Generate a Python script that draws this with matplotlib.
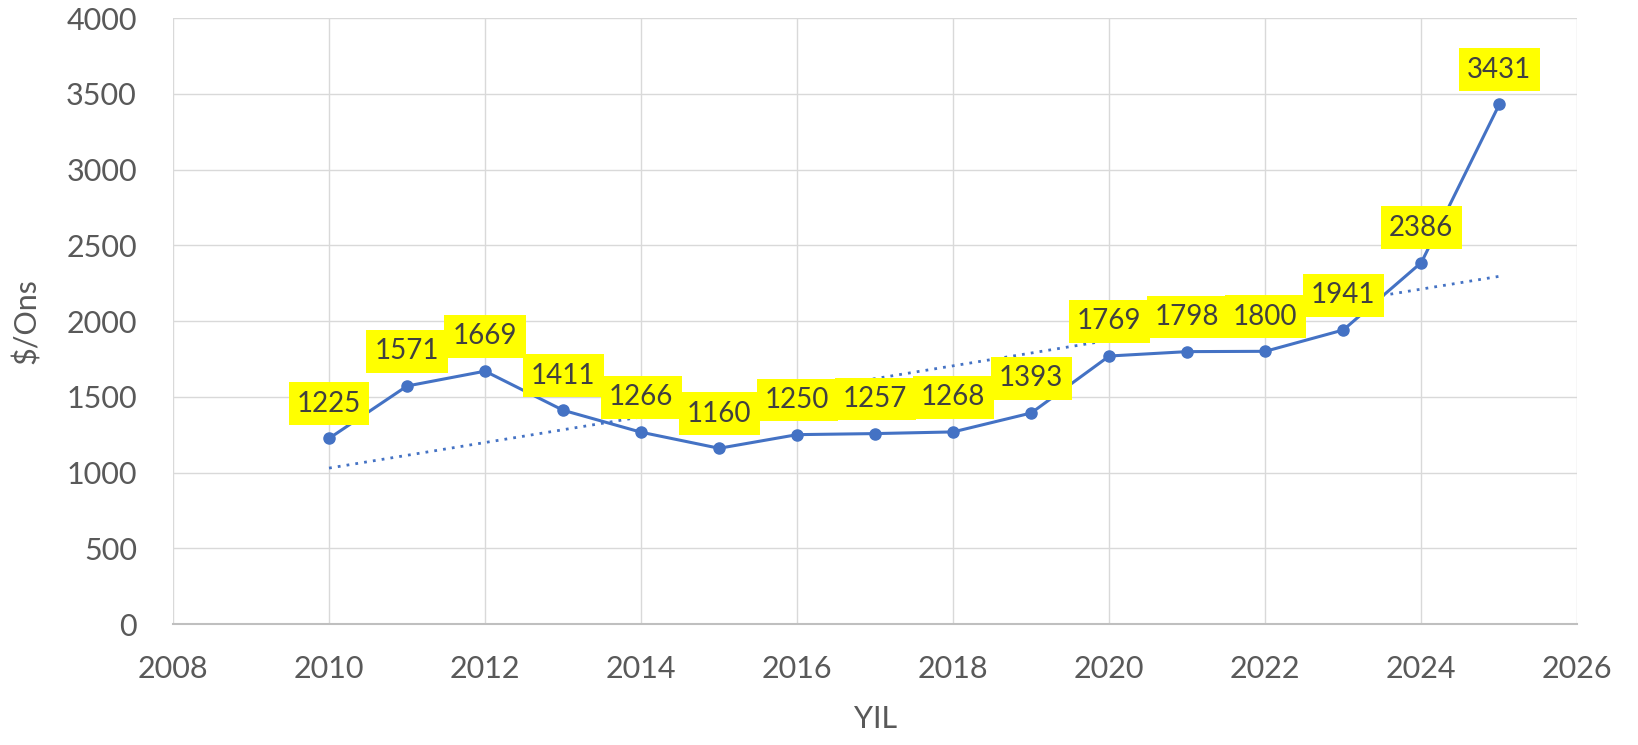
import matplotlib.pyplot as plt
import numpy as np

plt.rcParams['font.family'] = ['Lato', 'DejaVu Sans']

years = [2010, 2011, 2012, 2013, 2014, 2015, 2016, 2017,
         2018, 2019, 2020, 2021, 2022, 2023, 2024, 2025]
prices = [1225, 1571, 1669, 1411, 1266, 1160, 1250, 1257,
          1268, 1393, 1769, 1798, 1800, 1941, 2386, 3431]
x_ticks = list(range(2008, 2027, 2))
y_ticks = list(range(0, 4001, 500))

blue = '#4472C4'
grey_txt = '#595959'

fig = plt.figure(figsize=(16.38, 7.45), dpi=100)
ax = fig.add_axes([0.1056, 0.1624, 0.8574, 0.8134])

x = np.array(years)
y = np.array(prices)

# linear trend line (dotted)
k, b = np.polyfit(x, y, 1)
ax.plot(x, k * x + b, color=blue, lw=2, ls=(0, (1, 2.2)), zorder=2)

ax.plot(x, y, color=blue, lw=2.2, marker='o', ms=8, zorder=3)

for xx, yy in zip(years, prices):
    ax.annotate(str(yy), (xx, yy), xytext=(0, 25), textcoords='offset points',
                ha='center', va='center', fontsize=20, color='#404040',
                bbox=dict(boxstyle='square,pad=0.3', fc='#FFFF00', ec='none'),
                zorder=4)

ax.set_xlim(2008, 2026)
ax.set_ylim(0, 4000)
ax.set_xticks(x_ticks)
ax.set_yticks(y_ticks)
ax.grid(True, color='#D9D9D9', lw=1)
ax.set_axisbelow(True)
for s in ['top', 'right', 'left']:
    ax.spines[s].set_visible(False)
ax.spines['bottom'].set_color('#BFBFBF')
ax.spines['bottom'].set_linewidth(1.5)
ax.tick_params(length=0, labelsize=22, labelcolor=grey_txt)
ax.tick_params(axis='x', pad=22)
ax.tick_params(axis='y', pad=26)

ax.set_xlabel('YIL', fontsize=22, color=grey_txt, labelpad=16)
ax.set_ylabel(r'\$/Ons', fontsize=22, color=grey_txt, labelpad=18)

fig.savefig('out.png', dpi=100)
